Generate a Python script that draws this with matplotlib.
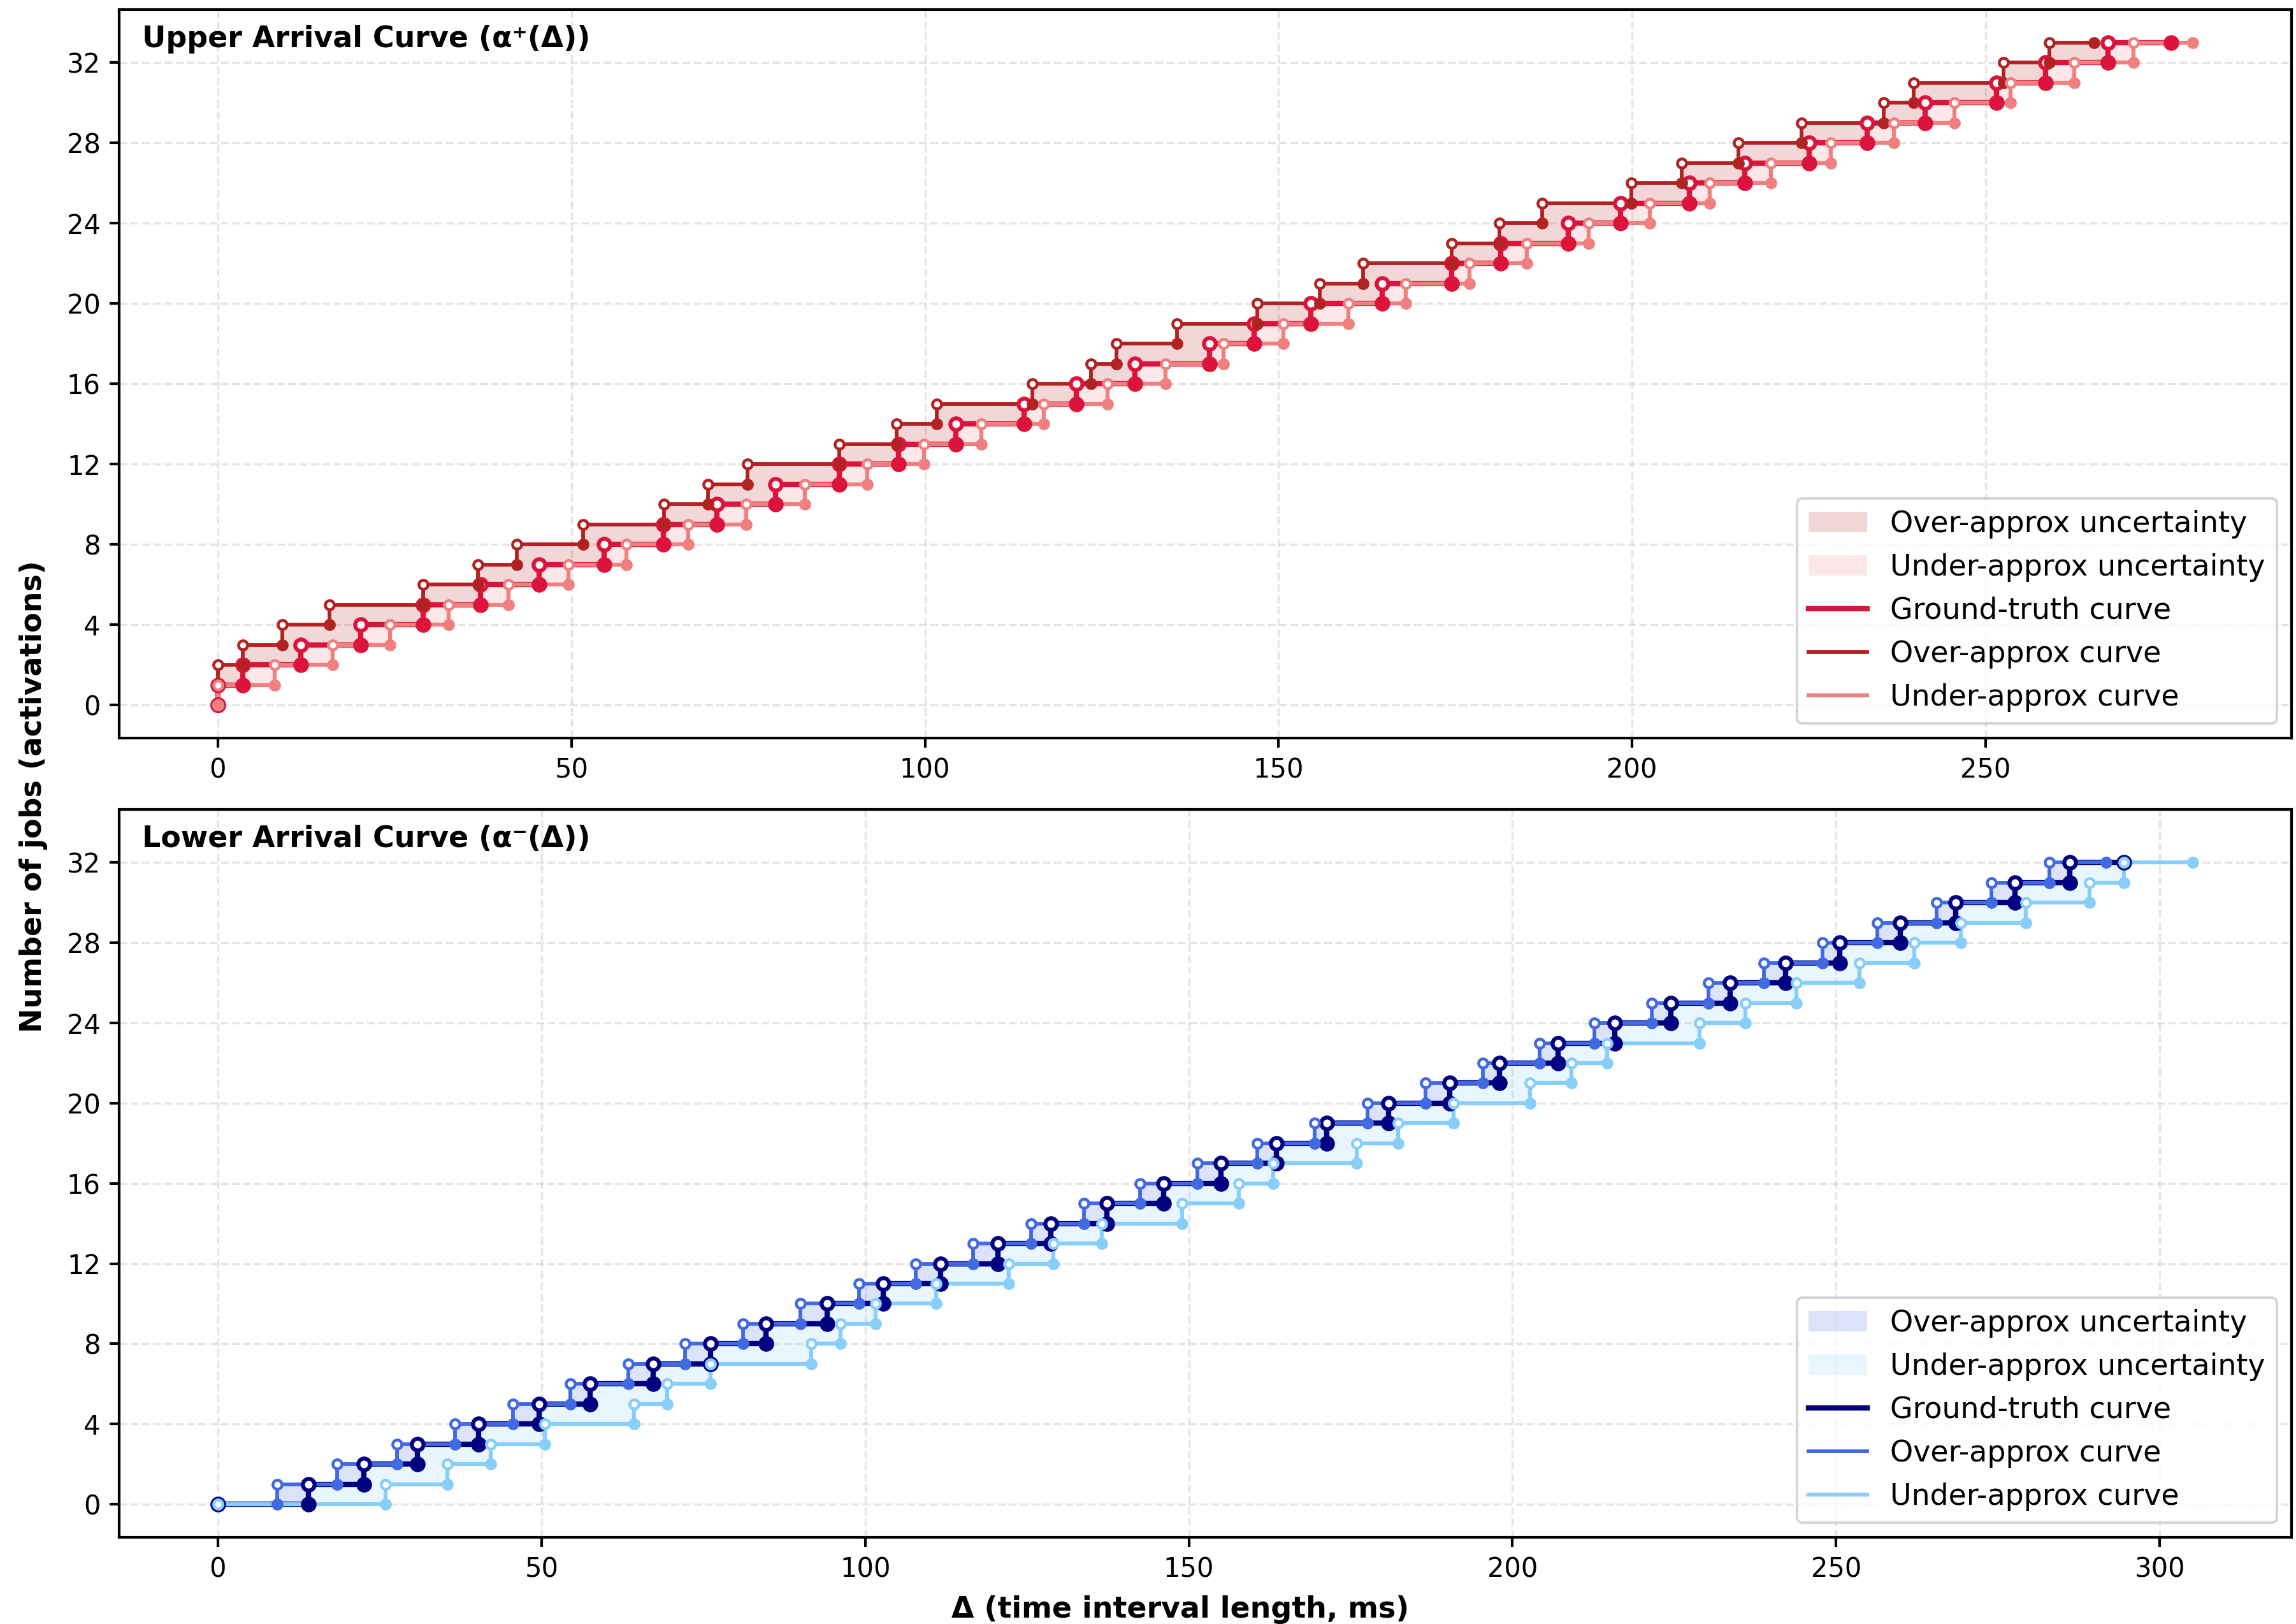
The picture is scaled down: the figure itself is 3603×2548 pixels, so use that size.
import numpy as np
import matplotlib
matplotlib.use("Agg")
import matplotlib.pyplot as plt
from matplotlib.patches import Patch
from matplotlib.lines import Line2D

W, H, DPI = 3603, 2548, 300

# Interval length (ms) at which each curve steps up to 1, 2, 3, ... jobs;
# the *_end value closes the last level.
upper_truth = [0.0, 3.5, 11.7, 20.2, 29.0, 37.1, 45.4, 54.6, 63.0, 70.6, 78.9,
               87.9, 96.3, 104.4, 114.0, 121.4, 129.7, 140.2, 146.5, 154.6,
               164.7, 174.5, 181.4, 191.0, 198.4, 208.1, 215.9, 225.0, 233.2,
               241.4, 251.5, 258.5, 267.3]
upper_truth_end = 276.2
upper_over = [0.0, 0.0, 3.5, 9.1, 15.8, 29.0, 36.8, 42.3, 51.6, 63.1, 69.3,
              74.9, 87.9, 96.0, 101.7, 115.2, 123.5, 127.1, 135.6, 147.0,
              155.8, 162.0, 174.5, 181.2, 187.3, 199.9, 207.0, 215.0, 224.0,
              235.6, 239.8, 252.5, 259.0]
upper_over_end = 265.3
upper_under = [0.0, 8.0, 16.2, 24.3, 32.6, 41.1, 49.6, 57.8, 66.5, 74.7, 83.0,
               91.8, 99.9, 108.0, 116.8, 125.8, 134.0, 142.2, 150.7, 159.9,
               168.0, 177.0, 185.1, 193.9, 202.5, 211.0, 219.6, 228.1, 237.0,
               245.6, 253.5, 262.5, 270.9]
upper_under_end = 279.3

lower_truth = [14.0, 22.5, 30.8, 40.3, 49.6, 57.5, 67.2, 76.1, 84.7, 94.1,
               102.8, 111.6, 120.5, 128.7, 137.3, 146.1, 155.0, 163.5, 171.3,
               180.9, 190.3, 198.0, 207.0, 215.8, 224.5, 233.6, 242.2, 250.6,
               259.9, 268.5, 277.6, 286.1]
lower_truth_end = 294.5
lower_over = [9.2, 18.4, 27.7, 36.6, 45.6, 54.4, 63.4, 72.2, 81.1, 90.0,
              99.0, 107.8, 116.7, 125.6, 133.8, 142.5, 151.3, 160.6, 169.4,
              177.6, 186.6, 195.4, 204.2, 212.7, 221.5, 230.3, 238.8, 247.9,
              256.4, 265.5, 274.0, 282.9]
lower_over_end = 291.7
lower_under = [25.9, 35.4, 42.1, 50.5, 64.3, 69.4, 76.1, 91.7, 96.2, 101.6,
               111.0, 122.2, 129.1, 136.6, 149.0, 157.7, 163.0, 175.9, 182.3,
               190.9, 202.7, 209.1, 214.6, 228.9, 236.0, 243.9, 253.6, 262.1,
               269.3, 279.3, 289.1, 294.5]
lower_under_end = 305.1

y_ticks = list(range(0, 33, 4))
legend_labels = ["Over-approx uncertainty", "Under-approx uncertainty",
                 "Ground-truth curve", "Over-approx curve", "Under-approx curve"]

RED = dict(truth="#DC143C", over="#B22222", under="#F08080")
BLUE = dict(truth="#000080", over="#4169E1", under="#87CEFA")
FILL_ALPHA = 0.18
LW = dict(truth=2.0, over=1.4, under=1.5)
MS = dict(truth=(4.4, 1.5), over=(3.4, 1.1), under=(3.4, 1.1))
Z = dict(truth=0.0, over=0.1, under=0.2)


def edges_of(jumps, end):
    return np.concatenate([[0.0], np.asarray(jumps, float), [end]])


def draw_curve(ax, jumps, end, color, kind):
    e = edges_of(jumps, end)
    lv = np.arange(len(e) - 1, dtype=float)
    nan = np.full(len(lv), np.nan)
    hx = np.column_stack([e[:-1], e[1:], nan]).ravel()
    hy = np.column_stack([lv, lv, nan]).ravel()
    ax.plot(hx, hy, color=color, lw=LW[kind], solid_capstyle="butt",
            zorder=3 + Z[kind])
    vx = np.column_stack([e[1:-1], e[1:-1], nan[:-1]]).ravel()
    vy = np.column_stack([lv[:-1], lv[:-1] + 1, nan[:-1]]).ravel()
    ax.plot(vx, vy, color=color, lw=LW[kind], solid_capstyle="butt",
            zorder=3 + Z[kind])
    ms, mew = MS[kind]
    ax.plot(e[:-1], lv, "o", ls="none", ms=ms, mfc="white", mec=color,
            mew=mew, zorder=5 + Z[kind])
    ax.plot(e[1:], lv, "o", ls="none", ms=ms, mfc=color, mec=color,
            mew=mew, zorder=5 + Z[kind])


def level_at(jumps, x):
    return int(np.searchsorted(np.asarray(jumps, float), x, side="right"))


def fill_gap(ax, truth, other, xmax, color):
    xs = np.unique(np.concatenate([[0.0], truth, other, [xmax]]))
    for a, b in zip(xs[:-1], xs[1:]):
        t, o = level_at(truth, a), level_at(other, a)
        if t != o:
            ax.fill_between([a, b], min(t, o), max(t, o), color=color,
                            alpha=FILL_ALPHA, lw=0, zorder=1)


def panel(ax, truth, t_end, over, o_end, under, u_end, pal, title):
    xmax = max(t_end, o_end, u_end)
    fill_gap(ax, truth, over, xmax, pal["over"])
    fill_gap(ax, truth, under, xmax, pal["under"])
    draw_curve(ax, truth, t_end, pal["truth"], "truth")
    draw_curve(ax, over, o_end, pal["over"], "over")
    draw_curve(ax, under, u_end, pal["under"], "under")

    ax.set_xlim(-0.05 * xmax, 1.05 * xmax)
    ax.set_ylim(-1.65, 34.65)
    ax.set_yticks(y_ticks)
    ax.tick_params(labelsize=10, width=1.0, length=3.5)
    for s in ax.spines.values():
        s.set_linewidth(1.0)
        s.set_color("black")
    ax.grid(True, ls="--", lw=0.8, color="#cccccc", alpha=0.5)
    ax.set_axisbelow(True)
    ax.text(0.0105, 0.9485, title, transform=ax.transAxes, fontsize=11,
            fontweight="bold", ha="left", va="baseline", zorder=10)

    handles = [
        Patch(facecolor=pal["over"], alpha=FILL_ALPHA, edgecolor="none"),
        Patch(facecolor=pal["under"], alpha=FILL_ALPHA, edgecolor="none"),
        Line2D([], [], color=pal["truth"], lw=LW["truth"]),
        Line2D([], [], color=pal["over"], lw=LW["over"]),
        Line2D([], [], color=pal["under"], lw=LW["under"]),
    ]
    leg = ax.legend(handles, legend_labels, loc="lower right", fontsize=11)
    leg.set_zorder(20)


fig = plt.figure(figsize=(W / DPI, H / DPI), dpi=DPI)
ax_up = fig.add_axes([187 / W, 1 - 1158 / H, 3409 / W, 1143 / H])
ax_lo = fig.add_axes([187 / W, 1 - 2412 / H, 3409 / W, 1142 / H])

panel(ax_up, upper_truth, upper_truth_end, upper_over, upper_over_end,
      upper_under, upper_under_end, RED, "Upper Arrival Curve (α⁺(Δ))")
panel(ax_lo, lower_truth, lower_truth_end, lower_over, lower_over_end,
      lower_under, lower_under_end, BLUE, "Lower Arrival Curve (α⁻(Δ))")

ax_lo.set_xlabel("Δ (time interval length, ms)", fontsize=11,
                 fontweight="bold")
ax_lo.xaxis.set_label_coords(0.4885, -0.080)
fig.text(53 / W, 1 - 1250 / H, "Number of jobs (activations)", rotation=90,
         ha="center", va="center", fontsize=11, fontweight="bold")

fig.savefig("out.png", dpi=DPI)
